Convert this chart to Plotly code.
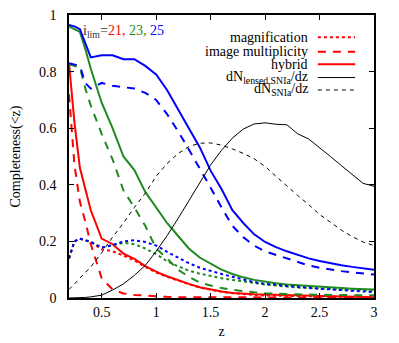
import plotly.graph_objects as go

z = [0.2, 0.25, 0.3, 0.35, 0.4, 0.5, 0.6, 0.7, 0.8, 0.9, 1.0, 1.1, 1.2, 1.3, 1.4, 1.5,
     1.6, 1.7, 1.8, 1.9, 2.0, 2.1, 2.2, 2.3, 2.4, 2.5, 2.6, 2.7, 2.8, 2.9, 3.0]

# i_lim = 21 (red)
mag21 = [0.14, 0.20, 0.21, 0.205, 0.198, 0.172, 0.165, 0.15, 0.133, 0.11, 0.09, 0.075, 0.061, 0.049, 0.037, 0.029,
         0.022, 0.017, 0.013, 0.011, 0.009, 0.008, 0.007, 0.006, 0.005, 0.005, 0.004, 0.004, 0.003, 0.003, 0.003]
mult21 = [0.72, 0.47, 0.34, 0.27, 0.19, 0.07, 0.03, 0.016, 0.011, 0.008, 0.005, 0.004, 0.003, 0.003, 0.002, 0.002,
          0.002, 0.002, 0.001, 0.001, 0.001, 0.001, 0.001, 0.001, 0.001, 0.001, 0.001, 0.001, 0.001, 0.001, 0.001]
hyb21 = [0.83, 0.62, 0.46, 0.38, 0.31, 0.21, 0.19, 0.157, 0.138, 0.113, 0.093, 0.077, 0.063, 0.050, 0.038, 0.030,
         0.023, 0.018, 0.015, 0.013, 0.012, 0.011, 0.010, 0.009, 0.008, 0.007, 0.006, 0.005, 0.004, 0.004, 0.003]

# i_lim = 23 (green)
mag23 = [0.14, 0.20, 0.21, 0.205, 0.198, 0.178, 0.187, 0.195, 0.19, 0.175, 0.155, 0.13, 0.112, 0.097, 0.086, 0.077,
         0.07, 0.064, 0.058, 0.052, 0.048, 0.044, 0.04, 0.037, 0.035, 0.033, 0.031, 0.029, 0.028, 0.027, 0.026]
mult23 = [0.826, 0.82, 0.815, 0.74, 0.68, 0.58, 0.49, 0.38, 0.32, 0.255, 0.175, 0.14, 0.10, 0.075, 0.055, 0.044,
          0.035, 0.029, 0.024, 0.020, 0.017, 0.015, 0.014, 0.013, 0.012, 0.011, 0.011, 0.010, 0.010, 0.010, 0.010]
hyb23 = [0.96, 0.95, 0.94, 0.88, 0.81, 0.69, 0.60, 0.50, 0.452, 0.375, 0.32, 0.265, 0.22, 0.175, 0.143, 0.12,
         0.10, 0.085, 0.073, 0.064, 0.057, 0.052, 0.048, 0.045, 0.042, 0.039, 0.037, 0.035, 0.033, 0.031, 0.030]

# i_lim = 25 (blue)
mag25 = [0.14, 0.20, 0.21, 0.205, 0.198, 0.178, 0.187, 0.20, 0.204, 0.198, 0.185, 0.163, 0.142, 0.123, 0.107, 0.095,
         0.085, 0.075, 0.065, 0.056, 0.05, 0.046, 0.042, 0.039, 0.036, 0.033, 0.030, 0.027, 0.025, 0.023, 0.021]
mult25 = [0.83, 0.825, 0.82, 0.76, 0.74, 0.76, 0.75, 0.745, 0.74, 0.725, 0.70, 0.65, 0.59, 0.525, 0.46, 0.39,
          0.32, 0.255, 0.215, 0.185, 0.165, 0.152, 0.14, 0.127, 0.115, 0.107, 0.10, 0.095, 0.09, 0.086, 0.083]
hyb25 = [0.965, 0.96, 0.95, 0.90, 0.85, 0.858, 0.858, 0.844, 0.844, 0.82, 0.79, 0.735, 0.665, 0.60, 0.533, 0.45,
         0.385, 0.31, 0.265, 0.225, 0.198, 0.18, 0.165, 0.152, 0.14, 0.131, 0.123, 0.116, 0.11, 0.105, 0.10]

# redshift distributions
dn_lensed = [0.0, 0.0, 0.001, 0.002, 0.004, 0.01, 0.028, 0.05, 0.08, 0.115, 0.165, 0.22, 0.28, 0.345, 0.41, 0.47,
             0.522, 0.565, 0.597, 0.615, 0.619, 0.614, 0.612, 0.58, 0.562, 0.532, 0.50, 0.468, 0.436, 0.405, 0.395]
dn_snia = [0.03, 0.05, 0.07, 0.09, 0.11, 0.16, 0.215, 0.265, 0.32, 0.37, 0.43, 0.475, 0.51, 0.535, 0.547, 0.548,
           0.54, 0.527, 0.511, 0.492, 0.465, 0.43, 0.395, 0.362, 0.33, 0.295, 0.268, 0.24, 0.217, 0.198, 0.185]

RED, GREEN, BLUE = "#ff0000", "#1f8a1f", "#0000ff"
DOT, DASH = "3px,3px", "8px,7px"

fig = go.Figure()
series = [
    (mag21, RED, DOT), (mult21, RED, DASH), (hyb21, RED, "solid"),
    (mag23, GREEN, DOT), (mult23, GREEN, DASH), (hyb23, GREEN, "solid"),
    (mag25, BLUE, DOT), (mult25, BLUE, DASH), (hyb25, BLUE, "solid"),
]
for ys, col, dash in series:
    fig.add_trace(go.Scatter(x=z, y=ys, mode="lines", showlegend=False,
                             line=dict(color=col, width=2, dash=dash)))
fig.add_trace(go.Scatter(x=z, y=dn_lensed, mode="lines", showlegend=False,
                         line=dict(color="black", width=1)))
fig.add_trace(go.Scatter(x=z, y=dn_snia, mode="lines", showlegend=False,
                         line=dict(color="black", width=1, dash="4px,4px")))

FONT = "Liberation Serif, Times New Roman, DejaVu Serif, serif"
axis_common = dict(showline=True, linecolor="black", linewidth=1.5, mirror="ticks",
                   ticks="inside", ticklen=5, tickcolor="black", tickwidth=1,
                   showgrid=False, zeroline=False, automargin=False, ticklabeloverflow="allow",
                   tickfont=dict(family=FONT, size=14, color="black"))
fig.update_xaxes(range=[0.2, 3], tickvals=[0.5, 1, 1.5, 2, 2.5, 3],
                 ticktext=["0.5", "1", "1.5", "2", "2.5", "3"], ticklabelstandoff=0,
                 title=dict(text="z", font=dict(family=FONT, size=14, color="black"), standoff=8),
                 **axis_common)
fig.update_yaxes(range=[0, 1], tickvals=[0, 0.2, 0.4, 0.6, 0.8, 1],
                 ticktext=["0", "0.2", "0.4", "0.6", "0.8", "1"], ticklabelstandoff=8,
                 title=dict(text="Completeness(&lt;z)", font=dict(family=FONT, size=14, color="black"), standoff=20),
                 **axis_common)

# gnuplot-style key (text right, sample on the right)
key = [
    ("magnification", RED, DOT, 2, 0.921),
    ("image multiplicity", RED, DASH, 2, 0.870),
    ("hybrid", RED, "solid", 2, 0.826),
    ("dN<sub>lensed SNIa</sub>/dz", "black", "solid", 1, 0.779),
    ("dN<sub>SNIa</sub>/dz", "black", "4px,4px", 1, 0.735),
]
for txt, col, dash, w, yy in key:
    fig.add_annotation(x=0.79, y=yy, xref="paper", yref="paper", text=txt, showarrow=False,
                       xanchor="right", yanchor="middle",
                       font=dict(family=FONT, size=14, color="black"))
    fig.add_shape(type="line", xref="paper", yref="paper", x0=0.816, x1=0.938, y0=yy, y1=yy,
                  line=dict(color=col, width=w, dash=dash))

fig.add_annotation(x=0.04, y=0.94, xref="paper", yref="paper", showarrow=False,
                   xanchor="left", yanchor="middle",
                   text=("i<sub>lim</sub>=<span style='color:#ff0000'>21, </span>"
                         "<span style='color:#1f8a1f'>23, </span><span style='color:#0000ff'>25</span>"),
                   font=dict(family=FONT, size=14, color="#333333"))

# page body has an 8px margin, so the figure is sized/offset to land on the 399x343 window
fig.update_layout(width=391, height=335, margin=dict(l=61, r=25, t=7, b=45),
                  plot_bgcolor="white", paper_bgcolor="white")
fig.write_html("out.html")
